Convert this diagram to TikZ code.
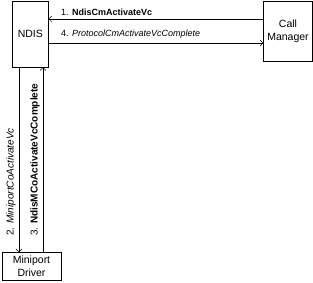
\documentclass[tikz,border=0pt]{standalone}
\usepackage{fontspec}
\setmainfont{Liberation Sans}
\usetikzlibrary{arrows.meta}
\begin{document}
\begin{tikzpicture}[x=1pt, y=-1pt,
    >={Straight Barb[length=3pt,width=6pt]},
    block/.style={draw, thin, rectangle, fill=white, align=center, font=\fontsize{10.5}{13}\selectfont, inner sep=0pt},
    msg/.style={font=\fontsize{9}{10}\selectfont, inner sep=1pt},
    vmsg/.style={msg, font=\fontsize{10}{11}\selectfont, rotate=90, anchor=south west},
    call/.style={->, thin}
]
\useasboundingbox (0,0) rectangle (313,283);
% boxes
\node[block, minimum width=36pt, minimum height=66pt] (ndis) at (30.3,34) {NDIS};
\node[block, minimum width=49pt, minimum height=60pt] (cm) at (288,31) {Call\\Manager};
\node[block, minimum width=59pt, minimum height=28pt] (mini) at (31.5,266.5) {Miniport\\Driver};

% NDIS <-> Call Manager
\draw[call] (cm.west |- 0,19) -- (ndis.east |- 0,19);
\node[msg, anchor=south west] (m1) at (60,17) {1. \textbf{NdisCmActivateVc}};
\draw[call] (ndis.east |- 0,43) -- (cm.west |- 0,43);
\node[msg, anchor=south west] (m4) at (60,40) {4. \textit{ProtocolCmActivateVcComplete}};

% NDIS <-> Miniport
\draw[call] (ndis.south -| 19,0) -- (mini.north -| 19,0);
\node[vmsg] (m2) at (17,237) {2. \textit{MiniportCoActivateVc}};
\draw[call] (mini.north -| 43,0) -- (ndis.south -| 43,0);
\node[vmsg] (m3) at (41,237) {3. \textbf{NdisMCoActivateVcComplete}};
\end{tikzpicture}
\end{document}
